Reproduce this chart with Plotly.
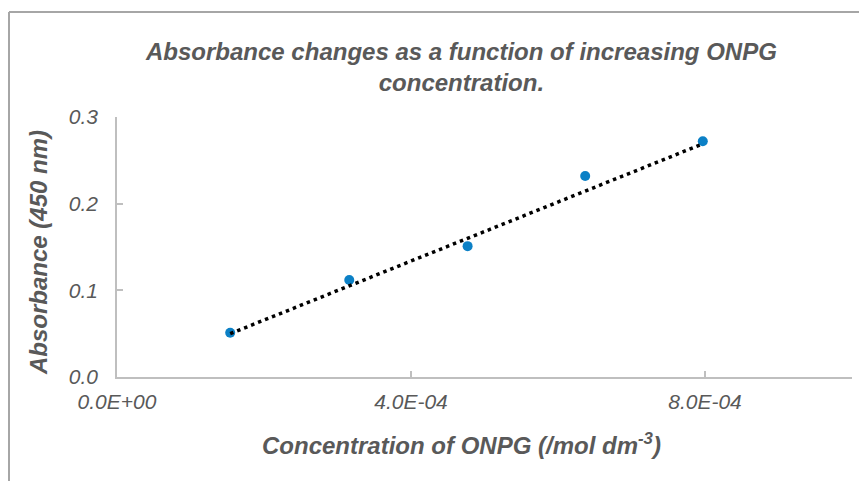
import plotly.graph_objects as go

# Data
conc = [1.54e-4, 3.16e-4, 4.77e-4, 6.37e-4, 7.97e-4]
absorbance = [0.051, 0.112, 0.151, 0.232, 0.272]
# linear trendline as drawn in the reference (end points)
trend_conc = [1.54e-4, 7.97e-4]
trend_absorbance = [0.050, 0.269]
x_tickvals = [0.0, 4.0e-4, 8.0e-4]
x_ticktext = ["0.0E+00", "4.0E-04", "8.0E-04"]
y_tickvals = [0.0, 0.1, 0.2, 0.3]

W, H = 859, 481
L, R, T, B = 117, 7, 117, 104
pw, ph = W - L - R, H - T - B


def px(x):
    return (x - L) / pw


def py(y):
    return (H - B - y) / ph


FONT = "Liberation Sans, Arial, sans-serif"
GREY = "#595959"
AXIS = "#bfbfbf"

fig = go.Figure()
fig.add_trace(go.Scatter(
    x=conc, y=absorbance, mode="markers",
    marker=dict(color="#0b80c6", size=10),
    showlegend=False, hoverinfo="skip",
))
fig.add_trace(go.Scatter(
    x=trend_conc, y=trend_absorbance, mode="lines",
    line=dict(color="black", width=3.5, dash="3.5px,4px"),
    showlegend=False, hoverinfo="skip",
))

fig.update_layout(
    width=W, height=H,
    margin=dict(l=L, r=R, t=T, b=B, pad=0),
    paper_bgcolor="white", plot_bgcolor="white",
    font=dict(family=FONT, color=GREY),
    xaxis=dict(
        range=[0, 1.0e-3], tickvals=x_tickvals, ticktext=x_ticktext,
        showgrid=False, zeroline=False, showline=True, linecolor=AXIS, linewidth=1.5,
        ticks="inside", ticklen=6, tickcolor=AXIS, tickwidth=1.5,
        tickfont=dict(family=FONT, size=21, color=GREY, style="italic"),
        ticklabelstandoff=5,
    ),
    yaxis=dict(
        range=[0, 0.3], tickvals=y_tickvals, tickformat=".1f",
        showgrid=False, zeroline=False, showline=True, linecolor=AXIS, linewidth=1.5,
        ticks="inside", ticklen=6, tickcolor=AXIS, tickwidth=1.5,
        tickfont=dict(family=FONT, size=21, color=GREY, style="italic"),
        ticklabelstandoff=13,
    ),
    shapes=[
        dict(type="line", xref="paper", yref="paper",
             x0=px(9), x1=px(W + 5), y0=py(12), y1=py(12),
             line=dict(color="#a6a6a6", width=2)),
        dict(type="line", xref="paper", yref="paper",
             x0=px(9), x1=px(9), y0=py(12), y1=py(H + 5),
             line=dict(color="#a6a6a6", width=2)),
    ],
    annotations=[
        dict(text="Absorbance changes as a function of increasing ONPG<br>concentration.",
             xref="paper", yref="paper", x=px(461), y=py(67),
             xanchor="center", yanchor="middle", showarrow=False,
             font=dict(family=FONT, size=24, color=GREY, weight="bold", style="italic")),
        dict(text="Concentration of ONPG (/mol dm<sup>-3</sup>)",
             xref="paper", yref="paper", x=px(461), y=py(444),
             xanchor="center", yanchor="middle", showarrow=False,
             font=dict(family=FONT, size=24, color=GREY, weight="bold", style="italic")),
        dict(text="Absorbance (450 nm)",
             xref="paper", yref="paper", x=px(39), y=py(253),
             xanchor="center", yanchor="middle", showarrow=False, textangle=-90,
             font=dict(family=FONT, size=24, color=GREY, weight="bold", style="italic")),
    ],
)

fig.write_html("out.html")
